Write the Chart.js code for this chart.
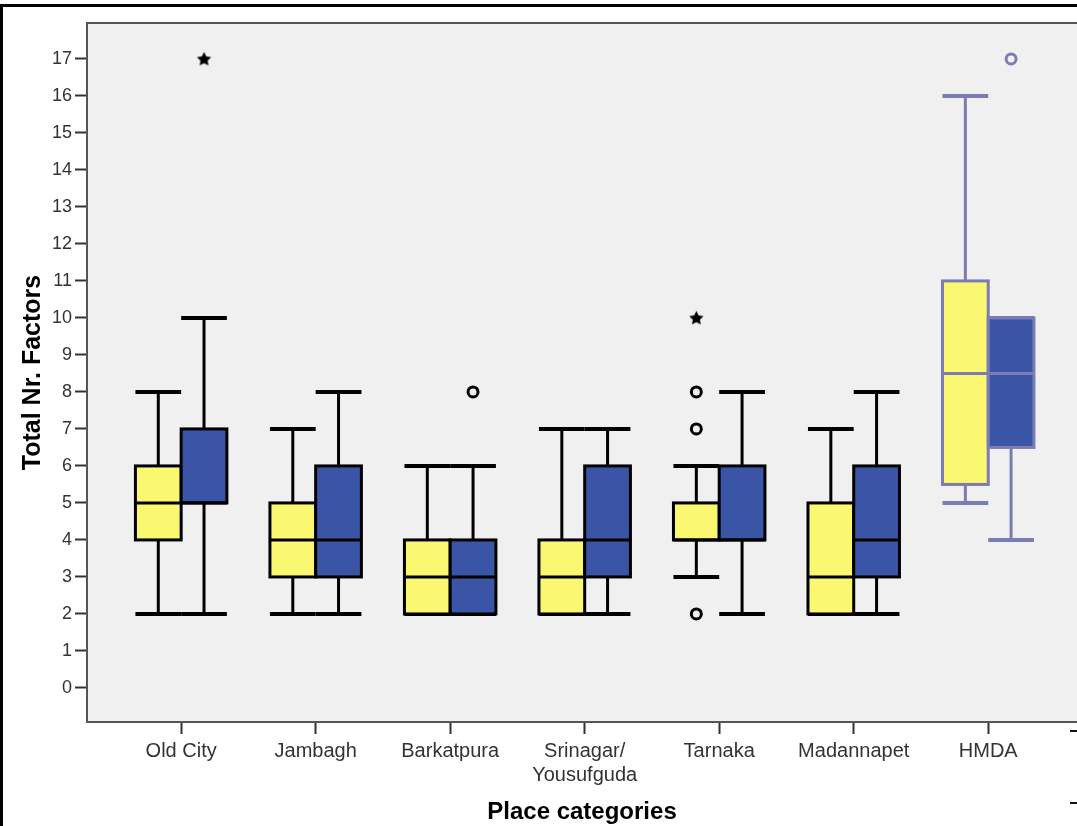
<!DOCTYPE html>
<html>
<head>
<meta charset="utf-8">
<script src="https://cdn.jsdelivr.net/npm/chart.js@4.4.1/dist/chart.umd.min.js"></script>
<style>
  html, body { margin: 0; padding: 0; background: #fff; }
  #wrap { position: relative; width: 1077px; height: 826px; overflow: hidden; }
  #c { position: absolute; left: 0; top: 0; }
  .frame { position: absolute; left: 0; top: 4px; width: 1100px; height: 840px;
           border-top: 3px solid #000; border-left: 3px solid #000; pointer-events: none; }
  .leg { position: absolute; left: 1070px; width: 12px; height: 0; border-top: 2px solid #111; }
</style>
</head>
<body>
<div id="wrap">
  <canvas id="c" width="1077" height="826"></canvas>
  <div class="frame"></div>
  <div class="leg" style="top:730px"></div>
  <div class="leg" style="top:802px"></div>
</div>
<script>
// Place categories on the x axis
const categories = ['Old City', 'Jambagh', 'Barkatpura', ['Srinagar/', 'Yousufguda'], 'Tarnaka', 'Madannapet', 'HMDA'];

// Y tick values
const yTicks = [0, 1, 2, 3, 4, 5, 6, 7, 8, 9, 10, 11, 12, 13, 14, 15, 16, 17];

// First (yellow) group: five-number summaries per category
const yellowMin    = [2, 2, 2, 2, 3, 2, 5];
const yellowQ1     = [4, 3, 2, 2, 4, 2, 5.5];
const yellowMedian = [5, 4, 3, 3, 4, 3, 8.5];
const yellowQ3     = [6, 5, 4, 4, 5, 5, 11];
const yellowMax    = [8, 7, 6, 7, 6, 7, 16];

// Second (blue) group
const blueMin    = [2, 2, 2, 2, 2, 2, 4];
const blueQ1     = [5, 3, 2, 3, 4, 3, 6.5];
const blueMedian = [5, 4, 3, 4, 4, 4, 8.5];
const blueQ3     = [7, 6, 4, 6, 6, 6, 10];
const blueMax    = [10, 8, 6, 7, 8, 8, 10];

// Outliers (circles) and extreme values (stars): category index + value
const yellowCircles = [{ cat: 4, value: 8 }, { cat: 4, value: 7 }, { cat: 4, value: 2 }];
const yellowStars   = [{ cat: 4, value: 10 }];
const blueCircles   = [{ cat: 2, value: 8 }, { cat: 6, value: 17 }];
const blueStars     = [{ cat: 0, value: 17 }];

const HALF = 0.17;            // half of one box width, in category units
const YELLOW = '#f9f870';
const BLUE = '#3a54a6';
const INK = '#000000';
const SOFT_INK = '#7c7cb4';   // outline colour for the HMDA boxes
const FONT = "'Liberation Sans', Arial, sans-serif";

const groups = [
  { offset: -HALF, fill: YELLOW, min: yellowMin, q1: yellowQ1, med: yellowMedian, q3: yellowQ3, max: yellowMax },
  { offset:  HALF, fill: BLUE,   min: blueMin,   q1: blueQ1,   med: blueMedian,   q3: blueQ3,   max: blueMax }
];

const inkFor = cat => (cat === 6 ? SOFT_INK : INK);

function makeStar(r, color) {
  const size = Math.ceil(r * 2 + 2);
  const cv = document.createElement('canvas');
  cv.width = size; cv.height = size;
  const g = cv.getContext('2d');
  const cx = size / 2, cy = size / 2 + 0.5;
  g.beginPath();
  for (let k = 0; k < 10; k++) {
    const rad = k % 2 === 0 ? r : r * 0.5;
    const a = -Math.PI / 2 + k * Math.PI / 5;
    const px = cx + rad * Math.cos(a), py = cy + rad * Math.sin(a);
    if (k === 0) g.moveTo(px, py); else g.lineTo(px, py);
  }
  g.closePath();
  g.fillStyle = color;
  g.fill();
  return cv;
}
const starBlack = makeStar(7.5, INK);

const boxPlugin = {
  id: 'boxes',
  beforeDraw(chart) {
    const { ctx, chartArea: a } = chart;
    ctx.save();
    ctx.fillStyle = '#f0f0f0';
    ctx.fillRect(a.left, a.top, a.right - a.left, a.bottom - a.top);
    ctx.restore();
  },
  beforeDatasetsDraw(chart) {
    const { ctx } = chart;
    const xs = chart.scales.x, ys = chart.scales.y;
    ctx.save();
    ctx.lineCap = 'butt';
    groups.forEach(gr => {
      categories.forEach((_, i) => {
        const c = i + gr.offset;
        const xl = xs.getPixelForValue(c - HALF);
        const xr = xs.getPixelForValue(c + HALF);
        const xc = xs.getPixelForValue(c);
        const yMin = ys.getPixelForValue(gr.min[i]);
        const yQ1 = ys.getPixelForValue(gr.q1[i]);
        const yMed = ys.getPixelForValue(gr.med[i]);
        const yQ3 = ys.getPixelForValue(gr.q3[i]);
        const yMax = ys.getPixelForValue(gr.max[i]);
        const ink = inkFor(i);
        ctx.strokeStyle = ink;
        // whiskers
        ctx.lineWidth = 3;
        ctx.beginPath();
        ctx.moveTo(xc, yQ3); ctx.lineTo(xc, yMax);
        ctx.moveTo(xc, yQ1); ctx.lineTo(xc, yMin);
        ctx.stroke();
        // caps
        ctx.lineWidth = 4;
        ctx.beginPath();
        ctx.moveTo(xl, yMax); ctx.lineTo(xr, yMax);
        ctx.moveTo(xl, yMin); ctx.lineTo(xr, yMin);
        ctx.stroke();
        // box
        ctx.fillStyle = gr.fill;
        ctx.fillRect(xl, yQ3, xr - xl, yQ1 - yQ3);
        ctx.lineWidth = 3;
        ctx.strokeRect(xl, yQ3, xr - xl, yQ1 - yQ3);
        // median
        ctx.beginPath();
        ctx.moveTo(xl, yMed); ctx.lineTo(xr, yMed);
        ctx.stroke();
      });
    });
    ctx.restore();
  },
  afterDraw(chart) {
    const { ctx, chartArea: a } = chart;
    ctx.save();
    ctx.strokeStyle = '#555';
    ctx.lineWidth = 2;
    ctx.beginPath();
    ctx.moveTo(a.left - 1, a.top); ctx.lineTo(a.right, a.top);
    ctx.stroke();
    ctx.restore();
  }
};

const toPoints = (list, offset) => list.map(p => ({ x: p.cat + offset, y: p.value, cat: p.cat }));
const pointInk = ctx => (ctx.raw ? inkFor(ctx.raw.cat) : INK);

new Chart(document.getElementById('c'), {
  type: 'scatter',
  data: {
    datasets: [
      { data: toPoints(yellowCircles, -HALF), pointStyle: 'circle', pointRadius: 5, pointBorderWidth: 3,
        pointBorderColor: pointInk, pointBackgroundColor: 'rgba(0,0,0,0)' },
      { data: toPoints(yellowStars, -HALF), pointStyle: starBlack, pointRadius: 7 },
      { data: toPoints(blueCircles, HALF), pointStyle: 'circle', pointRadius: 5, pointBorderWidth: 3,
        pointBorderColor: pointInk, pointBackgroundColor: 'rgba(0,0,0,0)' },
      { data: toPoints(blueStars, HALF), pointStyle: starBlack, pointRadius: 7 }
    ]
  },
  options: {
    responsive: false,
    animation: false,
    devicePixelRatio: 1,
    events: [],
    layout: { autoPadding: false, padding: { top: 23, left: 0, right: 0, bottom: 0 } },
    plugins: { legend: { display: false }, tooltip: { enabled: false } },
    scales: {
      x: {
        type: 'linear',
        min: -0.70,
        max: 6.66,
        afterBuildTicks: s => { s.ticks = categories.map((_, i) => ({ value: i })); },
        afterFit: s => { s.height = 104; s.paddingLeft = 0; s.paddingRight = 0; },
        ticks: {
          autoSkip: false, maxRotation: 0, minRotation: 0, padding: 5,
          color: '#333', font: { family: FONT, size: 20 },
          callback: v => categories[v]
        },
        grid: { drawOnChartArea: false, drawTicks: true, tickLength: 12, tickWidth: 2, tickColor: '#333' },
        border: { display: true, color: '#555', width: 2 },
        title: {
          display: true, text: 'Place categories', color: '#000',
          font: { family: FONT, size: 24, weight: 'bold', lineHeight: 1.1 },
          padding: { top: 0, bottom: 0 }
        }
      },
      y: {
        type: 'linear',
        min: -0.92,
        max: 17.97,
        afterBuildTicks: s => { s.ticks = yTicks.map(v => ({ value: v })); },
        afterFit: s => { s.width = 87; s.paddingTop = 0; s.paddingBottom = 0; },
        ticks: { padding: 3, color: '#333', font: { family: FONT, size: 18 } },
        grid: { drawOnChartArea: false, drawTicks: true, tickLength: 12, tickWidth: 2, tickColor: '#333' },
        border: { display: true, color: '#555', width: 2 },
        title: {
          display: true, text: 'Total Nr. Factors', color: '#000',
          font: { family: FONT, size: 25, weight: 'bold', lineHeight: 1.2 },
          padding: { top: 18, bottom: 0 }
        }
      }
    }
  },
  plugins: [boxPlugin]
});
</script>
</body>
</html>
